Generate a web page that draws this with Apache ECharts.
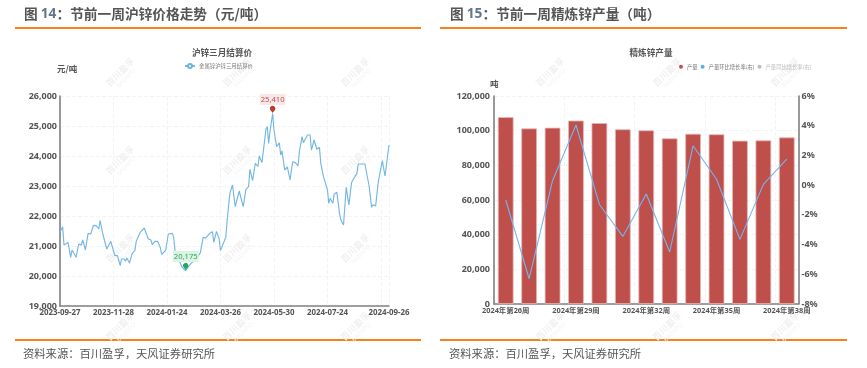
<!DOCTYPE html>
<html><head><meta charset="utf-8">
<style>html,body{margin:0;padding:0;background:#fff}#c{width:867px;height:368px;filter:blur(0.35px)}</style>
<script src="https://cdn.jsdelivr.net/npm/echarts@6/dist/echarts.min.js"></script>
</head><body><div id="c"></div>
<script>
// Left chart: trading-day position and price of each readable vertex of the line
const priceIndex=[0,2,3,4,6,7,8,9,12,14,16,17,19,21,23,25,27,29,30,32,33,35,38,39,41,43,45,46,48,49,50,52,54,56,57,58,60,63,64,66,68,69,71,73,75,76,77,79,81,84,85,86,89,91,94,96,98,102,105,107,109,112,114,115,116,117,119,120,121,124,125,127,129,131,134,137,139,141,142,144,145,146,148,149,151,154,155,156,157,159,160,161,162,164,165,166,168,170,172,174,176,178,179,181,182,185,187,188,190,192,194,195,197,200,201,202,204,205,207,209,210,212,214,216,218,219,222,223,228,231,233,234,236,238,241,243,246];
const priceValues=[21456,21644,21030,21090,21120,21160,20622,20867,20622,21067,21030,21200,20867,21422,21400,21689,21678,21567,21844,21400,21344,20900,21156,21156,20678,20678,20344,20567,20567,20489,20600,20433,20756,20844,21156,21156,21456,21600,21600,21233,21200,21044,21156,21156,20950,20722,20678,20850,21400,21422,21300,20845,20534,20311,20175,20311,20422,20567,20789,21289,21267,21422,21478,21123,21180,21489,21234,20845,20789,21300,21867,22756,23033,22311,22833,22311,22889,22978,23556,23178,23220,23756,23650,24000,23778,24889,24978,24422,24811,25410,24867,24920,24311,24440,24033,24170,23533,23640,23200,23811,23780,23667,24144,24644,24444,24700,24700,24200,24533,24222,24289,23756,23311,22867,22422,22589,22422,22733,22789,22089,21867,21700,22956,22367,23111,23200,23422,23733,23733,23033,22289,22370,22333,23144,23844,23333,24367];
const dateTicks={0:'2023-09-27',40:'2023-11-28',80:'2024-01-24',120:'2024-03-26',160:'2024-05-30',200:'2024-07-24',246:'2024-09-26'};
// Right chart
const weeks=['2024年第26周','2024年第27周','2024年第28周','2024年第29周','2024年第30周','2024年第31周','2024年第32周','2024年第33周','2024年第34周','2024年第35周','2024年第36周','2024年第37周','2024年第38周'];
const output=[107800,101300,101700,105800,104400,100800,100200,95600,98200,97900,94200,94400,96100];
const momGrowth=[-1.0,-6.3,0.3,4.05,-1.3,-3.45,-0.6,-4.5,2.65,0.4,-3.65,0.05,1.75];
const yoyGrowth=[];

const numFont='"Noto Sans",sans-serif';
const cjk='"Noto Sans CJK SC",sans-serif';
const axisText={color:'#555',fontFamily:'"Noto Sans","Noto Sans CJK SC",sans-serif',fontWeight:'bold'};
const yText=Object.assign({},axisText,{fontSize:9});
const xText=Object.assign({},axisText,{fontSize:7.9});
const gridLine={show:true,lineStyle:{color:'#f3f4f6',type:'dashed',width:1}};
const axisLine={show:true,lineStyle:{color:'#808080',width:1.6}};
const fmt=v=>Number(v).toLocaleString('en-US');

const graphics=[];
function text(x,y,t,font,fill,extra){graphics.push(Object.assign({type:'text',x,y,silent:true,style:{text:t,font,fill,textVerticalAlign:'middle'}},extra||{}));}
function rule(x,y,w){graphics.push({type:'rect',silent:true,shape:{x,y,width:w,height:2},style:{fill:'#F58220'}});}
rule(15,27,406);rule(440,27,407);rule(15,339,406);rule(440,339,407);
function heading(x,y,num,rest){
  graphics.push({type:'text',x,y,silent:true,style:{text:'{a|图 }{b|'+num+'}{a|'+rest+'}',textVerticalAlign:'middle',
    rich:{a:{font:'bold 13.7px '+cjk,fill:'#555',color:'#555'},b:{font:'bold 13.7px "Noto Sans",sans-serif',fill:'#60778a',color:'#60778a'}}}});
}
heading(24,14,'14','：节前一周沪锌价格走势（元/吨）');
heading(450,14,'15','：节前一周精炼锌产量（吨）');
text(23,354,'资料来源：百川盈孚，天风证券研究所','11.3px '+cjk,'#555');
text(449,354,'资料来源：百川盈孚，天风证券研究所','11.3px '+cjk,'#555');
text(57,69,'元/吨','bold 8.5px '+cjk,'#555');
text(490,84,'吨','bold 8.5px '+cjk,'#555');
[[120,72],[237,72],[355,72],[120,160],[237,160],[355,160],[120,248],[237,248],[355,248],[120,326],[237,326],[355,326],
 [550,72],[667,72],[785,72],[550,326],[667,326],[785,326]].forEach(p=>{
  graphics.push({type:'group',x:p[0],y:p[1],rotation:Math.PI/4,silent:true,children:[
    {type:'text',style:{text:'百川盈孚',font:'bold 9px '+cjk,fill:'#f0f0f0',textAlign:'center',textVerticalAlign:'middle'}},
    {type:'text',y:9,style:{text:'BAIINFO',font:'6px "Noto Sans"',fill:'#f3f3f3',textAlign:'center',textVerticalAlign:'middle'}}]});
});

const option={
  animation:false,backgroundColor:'#fff',
  title:[
    {text:'沪锌三月结算价',left:217,top:43,textAlign:'center',textStyle:{fontFamily:cjk,fontSize:8.6,fontWeight:'bold',color:'#555'}},
    {text:'精炼锌产量',left:646,top:43,textAlign:'center',textStyle:{fontFamily:cjk,fontSize:8.6,fontWeight:'bold',color:'#555'}}
  ],
  legend:[
    {left:184,top:63,itemWidth:10,itemHeight:5,itemGap:4,padding:0,data:['金属锌沪锌三月结算价'],textStyle:{fontFamily:cjk,fontSize:5.4,color:'#777',padding:[0,0,0,-1]}},
    {left:679,top:64,itemWidth:4,itemHeight:4,itemGap:3,padding:0,icon:'circle',
     data:[{name:'产量',itemStyle:{color:'#c0504d',borderWidth:0}},{name:'产量环比增长率(右)',itemStyle:{color:'#5aaef0'}},
           {name:'产量同比增长率(右)',itemStyle:{color:'#bdbdbd'},textStyle:{color:'#bbb'}}],
     textStyle:{fontFamily:cjk,fontSize:5.3,color:'#777',padding:[0,0,0,-1]}}
  ],
  grid:[
    {left:60,top:96,width:329,height:210,containLabel:false},
    {left:494,top:96,width:304.5,height:208,containLabel:false}
  ],
  xAxis:[
    {type:'value',gridIndex:0,min:0,max:246,interval:40,axisLine,axisTick:{show:false},splitLine:gridLine,
     axisLabel:Object.assign({},xText,{margin:3,formatter:v=>dateTicks[v]||'',showMinLabel:true,showMaxLabel:true,hideOverlap:false})},
    {type:'category',gridIndex:1,data:weeks,axisLine,axisTick:{show:false},splitLine:Object.assign({},gridLine,{interval:2}),
     axisLabel:Object.assign({},xText,{fontSize:7.4,margin:3,interval:2})}
  ],
  yAxis:[
    {type:'value',gridIndex:0,min:19000,max:26000,interval:1000,axisLine,axisTick:{show:false},splitLine:gridLine,
     axisLabel:Object.assign({},yText,{margin:3,formatter:fmt})},
    {type:'value',gridIndex:1,min:0,max:120000,interval:20000,axisLine,axisTick:{show:false},splitLine:gridLine,
     axisLabel:Object.assign({},yText,{margin:4,formatter:fmt})},
    {type:'value',gridIndex:1,position:'right',min:-8,max:6,interval:2,axisLine,axisTick:{show:false},splitLine:{show:false},
     axisLabel:Object.assign({},yText,{margin:3,formatter:'{value}%'})}
  ],
  series:[
    {name:'金属锌沪锌三月结算价',type:'line',xAxisIndex:0,yAxisIndex:0,data:priceIndex.map((x,i)=>[x,priceValues[i]]),
     symbol:'emptyCircle',symbolSize:4,showSymbol:false,lineStyle:{color:'#74B7E3',width:1.15},itemStyle:{color:'#6FB3E0'},
     markPoint:{symbol:'pin',symbolSize:9,silent:true,data:[
       {coord:[159,25410],value:25410,itemStyle:{color:'#c0392b'},
        label:{show:true,position:'top',distance:1,formatter:'25,410',color:'#b5535a',fontFamily:numFont,fontSize:7.6,backgroundColor:'#fbe6e6',padding:[2,1,1,1]}},
       {coord:[94,20175],value:20175,itemStyle:{color:'#22a866'},
        label:{show:true,position:'top',distance:1,formatter:'20,175',color:'#2fa35f',fontFamily:numFont,fontSize:7.6,backgroundColor:'#dcf3e2',padding:[2,1,1,1]}}
     ]}},
    {name:'产量',type:'bar',xAxisIndex:1,yAxisIndex:1,data:output,barWidth:15.7,itemStyle:{color:'#BE4F4B',borderColor:'#e6b8b6',borderWidth:0.8}},
    {name:'产量环比增长率(右)',type:'line',xAxisIndex:1,yAxisIndex:2,data:momGrowth,symbol:'none',lineStyle:{color:'#74B6F0',width:1.1},itemStyle:{color:'#5aaef0'}},
    {name:'产量同比增长率(右)',type:'line',xAxisIndex:1,yAxisIndex:2,data:yoyGrowth,symbol:'none',itemStyle:{color:'#bdbdbd'}}
  ],
  graphic:graphics
};
echarts.init(document.getElementById('c'),null,{renderer:'canvas'}).setOption(option);
</script></body></html>
